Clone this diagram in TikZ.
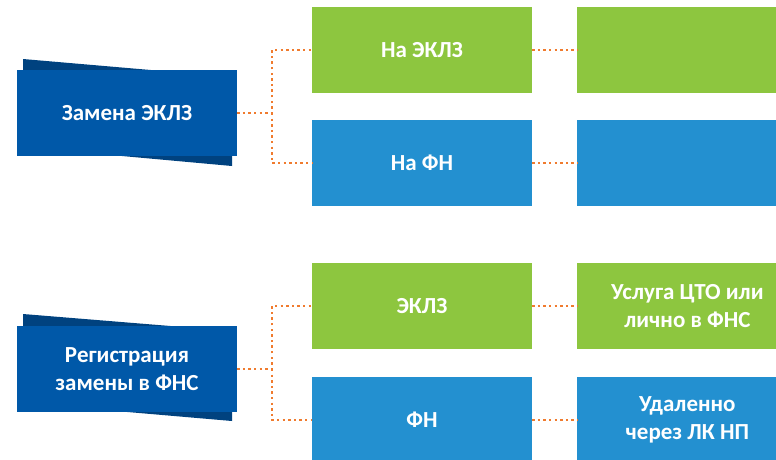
\documentclass[tikz,border=0pt]{standalone}
\usepackage{fontspec}
\setmainfont{Carlito}
\usetikzlibrary{positioning}
\definecolor{zamblue}{HTML}{0058A8}
\definecolor{shadeblue}{HTML}{00427F}
\definecolor{lgreen}{HTML}{8DC63F}
\definecolor{lblue}{HTML}{2390D0}
\definecolor{dotorange}{HTML}{F07B2E}
\tikzset{
  box/.style={inner sep=0pt, minimum width=220pt, minimum height=86pt,
    text=white, align=center, font=\bfseries\fontsize{23}{27.7}\selectfont},
  mainbox/.style={box, fill=zamblue},
  greenbox/.style={box, fill=lgreen},
  bluebox/.style={box, fill=lblue},
  link/.style={dotorange, line width=2.6pt, dash pattern=on 2.4pt off 3.2pt}
}
\begin{document}
\begin{tikzpicture}[x=1pt,y=-1pt]
  \useasboundingbox (0,0) rectangle (776,459);
  \clip (0,0) rectangle (776,459);
  % shadows behind the left boxes
  \fill[shadeblue] (23,59) -- (232,77) -- (232,166) -- (23,147) -- cycle;
  \fill[shadeblue] (23,314) -- (232,331) -- (232,421) -- (23,403) -- cycle;
  % left column
  \node[mainbox] (zamena) at (127,113) {Замена ЭКЛЗ};
  \node[mainbox] (reg) at (127,369) {Регистрация\\замены в ФНС};
  % middle column
  \node[greenbox] (naeklz) at (422,50) {На ЭКЛЗ};
  \node[bluebox] (nafn) at (422,163) {На ФН};
  \node[greenbox] (eklz) at (422,306) {ЭКЛЗ};
  \node[bluebox] (fn) at (422,420) {ФН};
  % right column
  \node[greenbox, right=45pt of naeklz] (eklzres) {};
  \node[bluebox, right=45pt of nafn] (fnres) {};
  \node[greenbox, right=45pt of eklz] (cto) {Услуга ЦТО или\\лично в ФНС};
  \node[bluebox, right=45pt of fn] (lk) {Удаленно\\через ЛК НП};
  % connectors
  \coordinate (j1) at (272,113);
  \coordinate (j2) at (272,369);
  \draw[link] (zamena.east) -- (j1) |- (naeklz.west);
  \draw[link] (j1) |- (nafn.west);
  \draw[link] (reg.east) -- (j2) |- (eklz.west);
  \draw[link] (j2) |- (fn.west);
  \draw[link] (naeklz) -- (eklzres);
  \draw[link] (nafn) -- (fnres);
  \draw[link] (eklz) -- (cto);
  \draw[link] (fn) -- (lk);
\end{tikzpicture}
\end{document}
